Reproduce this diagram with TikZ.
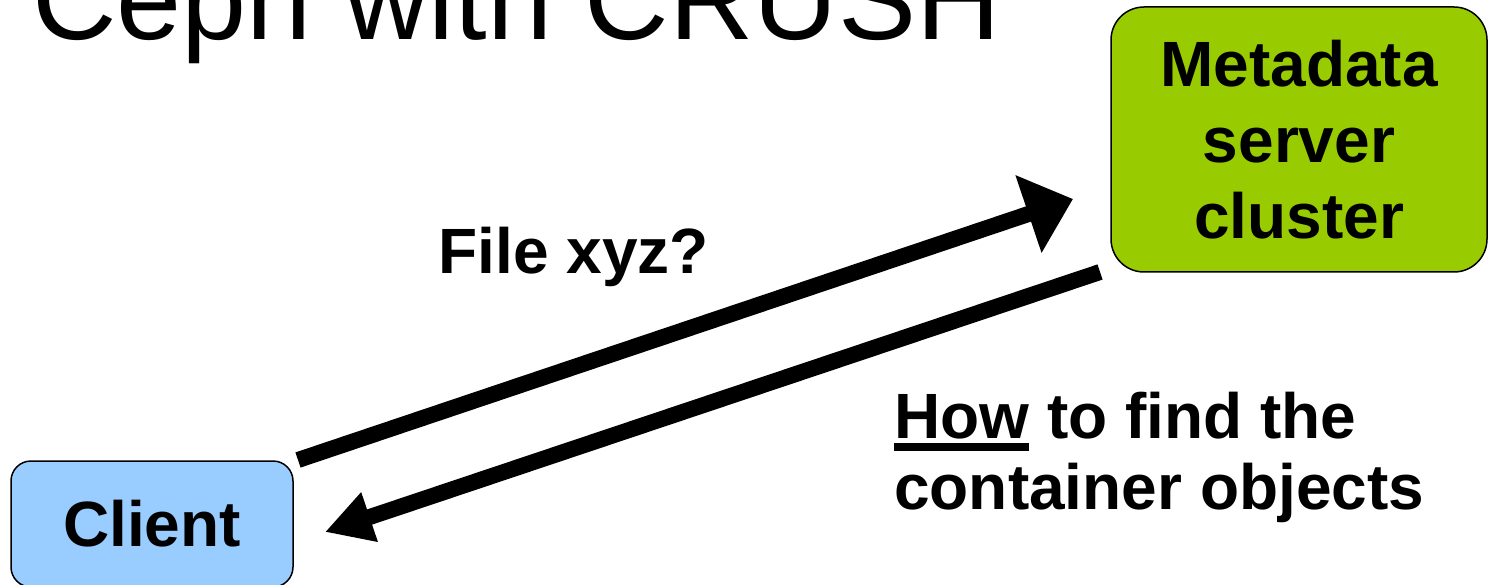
\documentclass[tikz,border=0pt]{standalone}
\usepackage{fontspec}
\setmainfont{Liberation Sans}
\usetikzlibrary{arrows.meta}
\definecolor{mdsgreen}{HTML}{99CC00}
\definecolor{clientblue}{HTML}{99CCFF}
\newcommand\myul[1]{\setbox0\hbox{#1}\rlap{\rule[-13pt]{\wd0}{8pt}}\box0\relax}
\tikzset{
  boxnode/.style={draw=black, line width=1.5pt, inner sep=0pt, align=center,
    font=\bfseries\fontsize{64}{76}\selectfont},
  lbl/.style={inner sep=0pt, font=\bfseries\fontsize{64}{71}\selectfont},
  bigarrow/.style={line width=16pt, -{Triangle[length=47pt,width=79pt]}},
  smallarrow/.style={line width=16pt, -{Triangle[length=47pt,width=49pt]}}
}
\begin{document}
\begin{tikzpicture}[x=1pt,y=-1pt]
\clip (0,0) rectangle (1488,585);
\fill[white] (0,0) rectangle (1488,585);
\node[anchor=base west, inner sep=0pt, font=\fontsize{117}{120}\selectfont] (title) at (32,40) {Ceph with CRUSH};
\node[boxnode, fill=mdsgreen, rounded corners=33pt, minimum width=376pt, minimum height=265pt] (mds) at (1299,139.5) {Metadata\\server\\cluster};
\node[boxnode, fill=clientblue, rounded corners=20pt, minimum width=282pt, minimum height=126pt] (client) at (152,524) {Client};
\node[lbl, anchor=base west] (question) at (438.5,273) {File xyz?};
\node[lbl, anchor=base west, align=left] (answer) at (894,509) {\myul{How} to find the\\container objects};
\coordinate (reqstart) at (298,460);
\coordinate (reqend) at (1073,199);
\coordinate (repstart) at (1100,272);
\coordinate (repend) at (325,532);
\draw[bigarrow] (reqstart) -- (reqend);
\draw[smallarrow] (repstart) -- (repend);
\end{tikzpicture}
\end{document}
